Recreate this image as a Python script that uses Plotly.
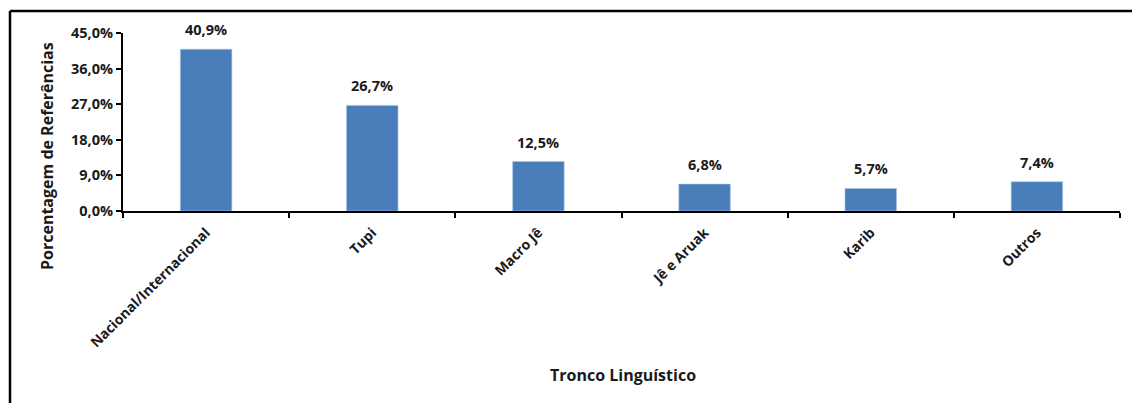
import plotly.graph_objects as go

# Linguistic trunk categories and share of references (%)
categorias = ["Nacional/Internacional", "Tupi", "Macro Jê", "Jê e Aruak", "Karib", "Outros"]
porcentagens = [40.9, 26.7, 12.5, 6.8, 5.7, 7.4]
ticks_y = [0, 9, 18, 27, 36, 45]

FONT = "Open Sans"
BAR_COLOR = "#4a7ebb"
TXT = "#1a1a1a"

def pct(v):
    return f"{v:.1f}%".replace(".", ",")

ticks_y_txt = [pct(v) for v in ticks_y]

fig = go.Figure(
    go.Bar(
        x=categorias,
        y=porcentagens,
        width=0.31,
        marker=dict(color=BAR_COLOR, line=dict(color="#a9c4e6", width=0.6)),
        hoverinfo="skip",
    )
)

# Value labels above each bar
for cat, v in zip(categorias, porcentagens):
    fig.add_annotation(
        x=cat, y=v, xref="x", yref="y",
        text=f"<b>{pct(v)}</b>", showarrow=False,
        yanchor="bottom", yshift=8,
        font=dict(family=FONT, size=14.5, color=TXT),
    )

L, R, T, B = 123, 12, 33, 192
W, H = 1132, 403
pw, ph = W - L - R, H - T - B

def px_x(px):
    return (px - L) / pw

def px_y(py):
    return (H - B - py) / ph

fig.update_layout(
    width=W,
    height=H,
    margin=dict(l=L, r=R, t=T, b=B),
    paper_bgcolor="white",
    plot_bgcolor="white",
    showlegend=False,
    font=dict(family=FONT, size=12, color=TXT),
    xaxis=dict(
        type="category",
        tickson="boundaries",
        ticks="outside",
        ticklen=5,
        tickwidth=1.5,
        tickcolor="black",
        showline=True,
        linecolor="black",
        linewidth=2,
        tickangle=-45,
        ticklabelstandoff=6,
        tickfont=dict(family=FONT, size=14, color=TXT, weight="bold"),
        showgrid=False,
    ),
    yaxis=dict(
        range=[0, 45],
        tickvals=ticks_y,
        ticktext=ticks_y_txt,
        ticks="outside",
        ticklen=5,
        tickwidth=1.5,
        tickcolor="black",
        showline=True,
        linecolor="black",
        linewidth=2,
        showgrid=False,
        zeroline=False,
        tickfont=dict(family=FONT, size=14.5, color=TXT, weight="bold"),
    ),
)

# Axis titles
fig.add_annotation(
    x=px_x(47), y=px_y(156), xref="paper", yref="paper",
    xanchor="center", yanchor="middle",
    text="<b>Porcentagem de Referências</b>", textangle=-90, showarrow=False,
    font=dict(family=FONT, size=16, color=TXT),
)
fig.add_annotation(
    x=px_x(623), y=px_y(375), xref="paper", yref="paper",
    xanchor="center", yanchor="middle",
    text="<b>Tronco Linguístico</b>", showarrow=False,
    font=dict(family=FONT, size=16, color=TXT),
)

# Outer frame (top and left edges)
fig.add_shape(type="line", xref="paper", yref="paper",
              x0=px_x(10), x1=px_x(1132), y0=px_y(11), y1=px_y(11),
              line=dict(color="black", width=2.5))
fig.add_shape(type="line", xref="paper", yref="paper",
              x0=px_x(10), x1=px_x(10), y0=px_y(11), y1=px_y(403),
              line=dict(color="black", width=2.5))

fig.write_html("out.html")
